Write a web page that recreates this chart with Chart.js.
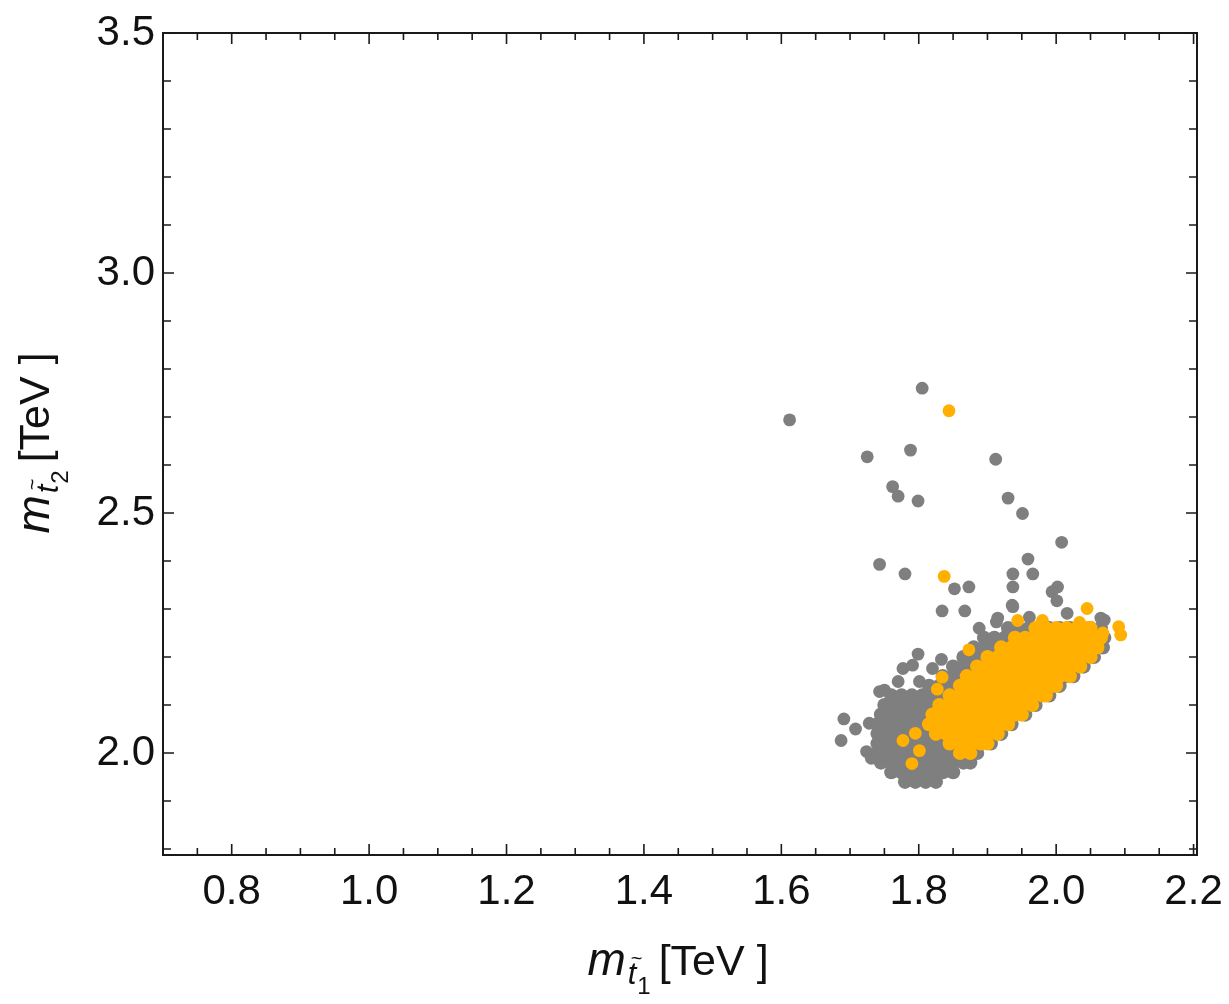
<!DOCTYPE html>
<html>
<head>
<meta charset="utf-8">
<title>Stop mass scan</title>
<script src="https://cdn.jsdelivr.net/npm/chart.js@4.4.1/dist/chart.umd.min.js"></script>
<style>
  html, body { margin: 0; padding: 0; background: #fff; }
  #plot { display: block; }
</style>
</head>
<body>
<canvas id="plot" width="1229" height="1004"></canvas>
<script>
// ================================
// m_stop1 vs m_stop2 scan points
// ================================

// Axis ranges (TeV)
const xRange = [0.7, 2.205];
const yRange = [1.7875, 3.5];

// Labelled ticks
const xTicks = [0.8, 1.0, 1.2, 1.4, 1.6, 1.8, 2.0, 2.2];
const xTickLabels = ['0.8', '1.0', '1.2', '1.4', '1.6', '1.8', '2.0', '2.2'];
const yTicks = [2.0, 2.5, 3.0, 3.5];
const yTickLabels = ['2.0', '2.5', '3.0', '3.5'];

// Unlabelled minor ticks
const xMinor = [0.75, 0.85, 0.9, 0.95, 1.05, 1.1, 1.15, 1.25, 1.3, 1.35, 1.45, 1.5, 1.55,
  1.65, 1.7, 1.75, 1.85, 1.9, 1.95, 2.05, 2.1, 2.15];
const yMinor = [1.8, 1.9, 2.1, 2.2, 2.3, 2.4, 2.6, 2.7, 2.8, 2.9, 3.1, 3.2, 3.3, 3.4];

// All points - scattered ones [x, y]
const grayScatter = [
  [1.612, 2.694], [1.805, 2.760], [1.788, 2.631], [1.725, 2.617], [1.912, 2.612],
  [1.762, 2.555], [1.770, 2.535], [1.799, 2.525], [1.930, 2.531], [1.951, 2.499],
  [2.008, 2.439], [1.743, 2.393], [1.959, 2.404], [1.780, 2.373], [1.937, 2.373],
  [1.966, 2.373], [1.852, 2.342], [1.873, 2.346], [1.937, 2.346], [2.002, 2.346],
  [1.994, 2.336], [2.001, 2.317], [1.834, 2.296], [1.867, 2.296], [1.937, 2.305],
  [2.016, 2.291], [1.915, 2.281], [2.065, 2.281], [2.070, 2.277], [1.888, 2.260],
  [1.913, 2.273], [1.961, 2.283], [1.936, 2.308],
  [1.691, 2.071], [1.708, 2.050], [1.687, 2.026], [1.724, 2.003], [1.731, 1.989],
  [1.728, 2.062], [1.743, 2.128], [1.750, 2.131], [1.770, 2.149], [1.801, 2.149],
  [1.777, 2.176], [1.791, 2.183], [1.820, 2.176], [1.833, 2.195], [1.799, 2.206]
];

// All points - dense band, rows of [y, x values]
const grayRows = [
  [1.94, [1.78, 1.795, 1.81, 1.825]],
  [1.96, [1.76, 1.775, 1.79, 1.805, 1.82, 1.835, 1.85]],
  [1.98, [1.745, 1.76, 1.775, 1.79, 1.805, 1.82, 1.835, 1.85, 1.865, 1.875]],
  [2.00, [1.74, 1.755, 1.77, 1.785, 1.80, 1.815, 1.83, 1.845, 1.86, 1.875, 1.885]],
  [2.02, [1.74, 1.755, 1.77, 1.785, 1.80, 1.815, 1.83, 1.845, 1.86, 1.875, 1.89, 1.905]],
  [2.04, [1.74, 1.755, 1.77, 1.785, 1.80, 1.815, 1.83, 1.845, 1.86, 1.875, 1.89, 1.905, 1.92]],
  [2.06, [1.74, 1.755, 1.77, 1.785, 1.80, 1.815, 1.83, 1.845, 1.86, 1.875, 1.89, 1.905, 1.92, 1.935]],
  [2.08, [1.745, 1.76, 1.775, 1.79, 1.805, 1.82, 1.835, 1.85, 1.865, 1.88, 1.895, 1.91, 1.925, 1.94, 1.955]],
  [2.10, [1.75, 1.765, 1.78, 1.795, 1.81, 1.825, 1.84, 1.855, 1.87, 1.885, 1.90, 1.915, 1.93, 1.945, 1.96, 1.97]],
  [2.12, [1.76, 1.775, 1.79, 1.805, 1.82, 1.835, 1.85, 1.865, 1.88, 1.895, 1.91, 1.925, 1.94, 1.955, 1.97, 1.99]],
  [2.14, [1.815, 1.83, 1.845, 1.86, 1.875, 1.89, 1.905, 1.92, 1.935, 1.95, 1.965, 1.98, 1.995, 2.005]],
  [2.16, [1.835, 1.85, 1.865, 1.88, 1.895, 1.91, 1.925, 1.94, 1.955, 1.97, 1.985, 2.00, 2.015, 2.025]],
  [2.18, [1.85, 1.865, 1.88, 1.895, 1.91, 1.925, 1.94, 1.955, 1.97, 1.985, 2.00, 2.015, 2.03, 2.04]],
  [2.20, [1.865, 1.88, 1.895, 1.91, 1.925, 1.94, 1.955, 1.97, 1.985, 2.00, 2.015, 2.03, 2.045, 2.055]],
  [2.22, [1.88, 1.895, 1.91, 1.925, 1.94, 1.955, 1.97, 1.985, 2.00, 2.015, 2.03, 2.045, 2.058, 2.068]],
  [2.24, [1.895, 1.91, 1.925, 1.94, 1.955, 1.97, 1.985, 2.00, 2.015, 2.03, 2.045, 2.06, 2.07]],
  [2.26, [1.93, 1.945, 1.96, 1.975, 1.99, 2.005, 2.02, 2.035, 2.05, 2.065]]
];

// Allowed points - scattered ones [x, y]
const orangeScatter = [
  [1.844, 2.713], [1.837, 2.368], [2.045, 2.301], [1.944, 2.276], [1.980, 2.276],
  [2.034, 2.272], [2.068, 2.250], [2.091, 2.263], [2.094, 2.246],
  [1.873, 2.215], [1.834, 2.158], [1.827, 2.133],
  [1.777, 2.026], [1.795, 2.041], [1.801, 2.005], [1.790, 1.978]
];

// Allowed points - dense band, rows of [y, x values]
const orangeRows = [
  [2.00, [1.86, 1.875]],
  [2.02, [1.845, 1.86, 1.875, 1.89, 1.90]],
  [2.04, [1.825, 1.84, 1.855, 1.87, 1.885, 1.90, 1.915]],
  [2.06, [1.815, 1.83, 1.845, 1.86, 1.875, 1.89, 1.905, 1.92, 1.93]],
  [2.08, [1.82, 1.835, 1.85, 1.865, 1.88, 1.895, 1.91, 1.925, 1.94, 1.95]],
  [2.10, [1.83, 1.845, 1.86, 1.875, 1.89, 1.905, 1.92, 1.935, 1.95, 1.965]],
  [2.12, [1.845, 1.86, 1.875, 1.89, 1.905, 1.92, 1.935, 1.95, 1.965, 1.98, 1.985]],
  [2.14, [1.86, 1.875, 1.89, 1.905, 1.92, 1.935, 1.95, 1.965, 1.98, 1.995, 2.00]],
  [2.16, [1.87, 1.885, 1.90, 1.915, 1.93, 1.945, 1.96, 1.975, 1.99, 2.005, 2.02]],
  [2.18, [1.885, 1.90, 1.915, 1.93, 1.945, 1.96, 1.975, 1.99, 2.005, 2.02, 2.035]],
  [2.20, [1.90, 1.915, 1.93, 1.945, 1.96, 1.975, 1.99, 2.005, 2.02, 2.035, 2.05]],
  [2.22, [1.92, 1.935, 1.95, 1.965, 1.98, 1.995, 2.01, 2.025, 2.04, 2.055, 2.06]],
  [2.24, [1.94, 1.955, 1.97, 1.985, 2.00, 2.015, 2.03, 2.045, 2.06, 2.065]],
  [2.26, [1.97, 1.985, 2.00, 2.015, 2.03, 2.045, 2.05]]
];

const GRAY = '#7f7f7f';
const ORANGE = '#ffb000';
const INK = '#111';
const FONT = "'Liberation Sans', Arial, Helvetica, sans-serif";

function pairsToPoints(pairs) {
  return pairs.map(p => ({ x: p[0], y: p[1] }));
}

function rowsToPoints(rows) {
  const out = [];
  rows.forEach(r => r[1].forEach(x => out.push({ x: x, y: r[0] })));
  return out;
}

// m with a stop subscript followed by [TeV]; (px, py) = centre of baseline
function drawMassTitle(ctx, px, py, rotated, idx) {
  const parts = [
    { t: 'm', f: 'italic 46px ' + FONT, dy: 0, gap: 2 },
    { t: 't', f: 'italic 31px ' + FONT, dy: 9, gap: 1, tilde: true },
    { t: idx, f: '24px ' + FONT, dy: 19, gap: 8 },
    { t: '[TeV ]', f: '43px ' + FONT, dy: 0, gap: 0 }
  ];
  ctx.save();
  let total = 0;
  parts.forEach(p => {
    ctx.font = p.f;
    p.w = ctx.measureText(p.t).width;
    total += p.w + p.gap;
  });
  ctx.translate(px, py);
  if (rotated) ctx.rotate(-Math.PI / 2);
  ctx.fillStyle = INK;
  ctx.textBaseline = 'alphabetic';
  let x = -total / 2;
  parts.forEach(p => {
    ctx.font = p.f;
    ctx.fillText(p.t, x, p.dy);
    if (p.tilde) {
      ctx.font = '20px ' + FONT;
      ctx.fillText('~', x + p.w * 0.35, p.dy - 19);
    }
    x += p.w + p.gap;
  });
  ctx.restore();
}

// Frame with inward ticks on all four sides, plus axis titles
const framePlugin = {
  id: 'frame',
  afterDraw(chart) {
    const { ctx, chartArea: a, scales } = chart;
    const sx = scales.x, sy = scales.y;
    ctx.save();
    ctx.strokeStyle = '#1a1a1a';
    ctx.lineWidth = 2;
    ctx.strokeRect(a.left, a.top, a.right - a.left, a.bottom - a.top);

    ctx.lineWidth = 1.6;
    ctx.beginPath();
    const xMark = (v, len) => {
      const px = sx.getPixelForValue(v);
      ctx.moveTo(px, a.bottom); ctx.lineTo(px, a.bottom - len);
      ctx.moveTo(px, a.top); ctx.lineTo(px, a.top + len);
    };
    const yMark = (v, len) => {
      const py = sy.getPixelForValue(v);
      ctx.moveTo(a.left, py); ctx.lineTo(a.left + len, py);
      ctx.moveTo(a.right, py); ctx.lineTo(a.right - len, py);
    };
    xTicks.forEach(v => xMark(v, 11));
    xMinor.forEach(v => xMark(v, 7));
    yTicks.forEach(v => yMark(v, 11));
    yMinor.forEach(v => yMark(v, 8));
    ctx.stroke();
    ctx.restore();

    drawMassTitle(ctx, (a.left + a.right) / 2 - 2, 975, false, '1');
    drawMassTitle(ctx, 49, 443, true, '2');
  }
};

// dense band dots a touch larger so neighbouring rows close up
const bandRadius = 7.1;
const dotRadius = 6.4;

const chart = new Chart(document.getElementById('plot'), {
  type: 'scatter',
  data: {
    datasets: [
      { label: 'allowed', data: rowsToPoints(orangeRows), backgroundColor: ORANGE,
        pointRadius: bandRadius, pointBorderWidth: 0, order: 1 },
      { label: 'allowed (sparse)', data: pairsToPoints(orangeScatter), backgroundColor: ORANGE,
        pointRadius: dotRadius, pointBorderWidth: 0, order: 2 },
      { label: 'all', data: rowsToPoints(grayRows), backgroundColor: GRAY,
        pointRadius: bandRadius, pointBorderWidth: 0, order: 3 },
      { label: 'all (sparse)', data: pairsToPoints(grayScatter), backgroundColor: GRAY,
        pointRadius: dotRadius, pointBorderWidth: 0, order: 4 }
    ]
  },
  options: {
    responsive: false,
    animation: false,
    events: [],
    layout: { padding: { top: 33, right: 32, left: 0, bottom: 0 } },
    plugins: { legend: { display: false }, tooltip: { enabled: false } },
    scales: {
      x: {
        type: 'linear',
        min: xRange[0],
        max: xRange[1],
        grid: { display: false, drawTicks: false },
        border: { display: false },
        afterBuildTicks: s => { s.ticks = xTicks.map(v => ({ value: v })); },
        afterFit: s => { s.height = 149; s.paddingLeft = 0; s.paddingRight = 0; },
        ticks: {
          autoSkip: false,
          maxRotation: 0,
          padding: 12,
          color: INK,
          font: { family: FONT, size: 42 },
          callback: (v, i) => xTickLabels[i]
        }
      },
      y: {
        type: 'linear',
        min: yRange[0],
        max: yRange[1],
        grid: { display: false, drawTicks: false },
        border: { display: false },
        afterBuildTicks: s => { s.ticks = yTicks.map(v => ({ value: v })); },
        afterFit: s => { s.width = 163; s.paddingTop = 0; s.paddingBottom = 0; },
        ticks: {
          autoSkip: false,
          padding: 8,
          color: INK,
          font: { family: FONT, size: 42 },
          callback: (v, i) => yTickLabels[i]
        }
      }
    }
  },
  plugins: [framePlugin]
});
</script>
</body>
</html>
